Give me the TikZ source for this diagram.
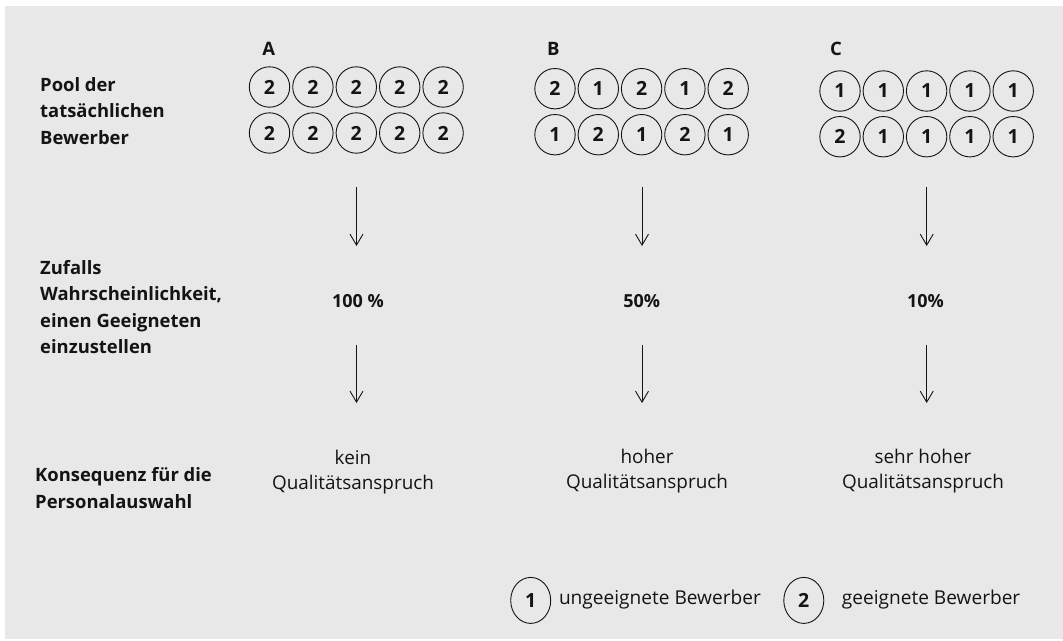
\documentclass[tikz,border=0pt]{standalone}
\usepackage{fontspec}
\setmainfont{Open Sans}
\usetikzlibrary{arrows.meta,shapes.geometric}
\definecolor{bggray}{RGB}{232,232,232}
\definecolor{ink}{RGB}{20,20,20}
\begin{document}
\begin{tikzpicture}[x=1pt,y=-1pt,
  lbl/.style={font=\bfseries\fontsize{18.4}{26.3}\selectfont, align=left, anchor=west, inner sep=0, text=ink},
  cnum/.style={circle, draw=ink, line width=0.9pt, minimum size=40.4pt, inner sep=0, font=\bfseries\fontsize{19.5}{20}\selectfont, text=ink},
  lcirc/.style={ellipse, draw=ink, line width=0.9pt, minimum width=40pt, minimum height=46pt, inner sep=0, font=\bfseries\fontsize{19.5}{20}\selectfont, text=ink},
  grp/.style={font=\bfseries\fontsize{18.5}{20}\selectfont, inner sep=0, text=ink},
  pct/.style={font=\bfseries\fontsize{18}{20}\selectfont, inner sep=0, text=ink},
  arr/.style={-{Straight Barb[length=11pt,width=13pt]}, line width=0.9pt, draw=ink},
  res/.style={font=\fontsize{18.9}{25}\selectfont, align=center, inner sep=0, text=ink},
  leg/.style={font=\fontsize{19.1}{22}\selectfont, anchor=west, inner sep=0, text=ink}
]
\useasboundingbox (0,0) rectangle (1063,640);
\fill[bggray] (5,6) rectangle (1063,639);

% row labels
\node[lbl] (l1) at (40,111) {Pool der\\tatsächlichen\\Bewerber};
\node[lbl] (l2) at (40,307) {Zufalls\\Wahrscheinlichkeit,\\einen Geeigneten\\einzustellen};
\node[lbl] (l3) at (35,488) {Konsequenz für die\\Personalauswahl};

% group labels
\node[grp] (gA) at (268.7,48.5) {A};
\node[grp] (gB) at (553.3,48.5) {B};
\node[grp] (gC) at (836,48.5) {C};

% circles A
\foreach \d [count=\i] in {2,2,2,2,2} \node[cnum] (A1\i) at ({269.5+43.4*(\i-1)},87) {\d};
\foreach \d [count=\i] in {2,2,2,2,2} \node[cnum] (A2\i) at ({269.5+43.4*(\i-1)},133) {\d};
% circles B
\foreach \d [count=\i] in {2,1,2,1,2} \node[cnum] (B1\i) at ({555+43.3*(\i-1)},88.7) {\d};
\foreach \d [count=\i] in {1,2,1,2,1} \node[cnum] (B2\i) at ({555+43.3*(\i-1)},134.7) {\d};
% circles C
\foreach \d [count=\i] in {1,1,1,1,1} \node[cnum] (C1\i) at ({840+43.3*(\i-1)},91) {\d};
\foreach \d [count=\i] in {2,1,1,1,1} \node[cnum] (C2\i) at ({840+43.3*(\i-1)},136.7) {\d};

% percentages
\node[pct] (pA) at (358,301) {100 \%};
\node[pct] (pB) at (641.7,301) {50\%};
\node[pct] (pC) at (925.5,301) {10\%};

% consequences
\node[res] (rA) at (353,472) {kein\\Qualitätsanspruch};
\node[res] (rB) at (647,471) {hoher\\Qualitätsanspruch};
\node[res] (rC) at (923,471) {sehr hoher\\Qualitätsanspruch};

% arrows
\foreach \g/\x in {A/356.5,B/642,C/926.7}{
  \coordinate (\g s1) at (\x,187);
  \coordinate (\g e1) at (\x,246);
  \coordinate (\g s2) at (\x,345);
  \coordinate (\g e2) at (\x,403);
  \draw[arr] (\g s1) -- (\g e1);
  \draw[arr] (\g s2) -- (\g e2);
}

% legend
\node[lcirc] (k1) at (530.7,600.4) {1};
\node[leg] (t1) at (558.8,599.5) {ungeeignete Bewerber};
\node[lcirc] (k2) at (803.8,600.4) {2};
\node[leg] (t2) at (841.7,599.5) {geeignete Bewerber};
\end{tikzpicture}
\end{document}
